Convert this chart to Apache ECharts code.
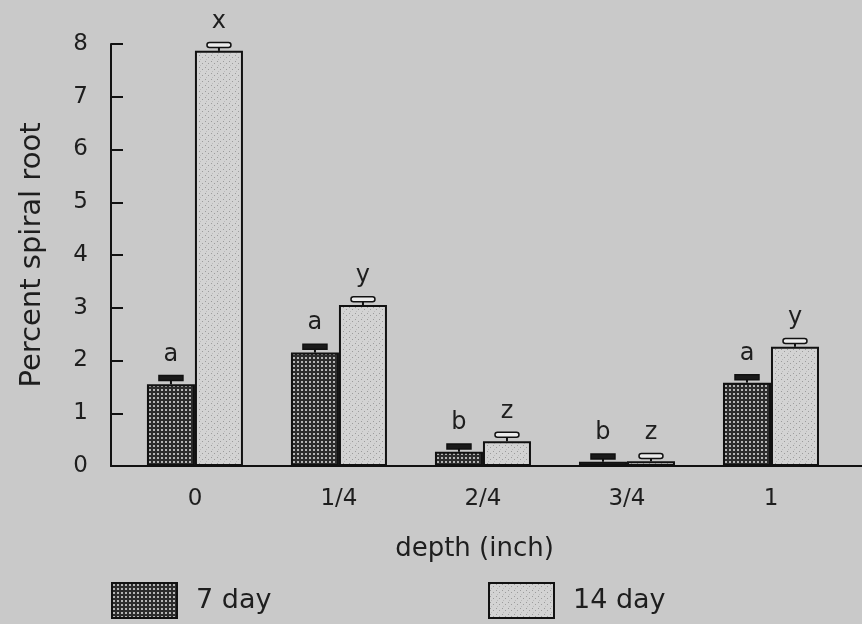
<!DOCTYPE html>
<html>
<head>
<meta charset="utf-8">
<script src="https://cdn.jsdelivr.net/npm/echarts@6/dist/echarts.min.js"></script>
<style>
  html, body { margin: 0; padding: 0; background: #c9c9c9; }
  #chart { width: 862px; height: 624px; }
</style>
</head>
<body>
<div id="chart"></div>
<script>
const depths = ['0', '1/4', '2/4', '3/4', '1']
const day7 = [1.55, 2.15, 0.27, 0.08, 1.58]
const day14 = [7.87, 3.05, 0.47, 0.09, 2.26]
const err7 = [0.13, 0.12, 0.11, 0.11, 0.11]
const err14 = [0.12, 0.12, 0.13, 0.11, 0.12]
const letters7 = ['a', 'a', 'b', 'b', 'a']
const letters14 = ['x', 'y', 'z', 'z', 'y']
const yTicks = [0, 1, 2, 3, 4, 5, 6, 7, 8]

const font = '"DejaVu Sans", "Liberation Sans", sans-serif'
const ink = '#1e1e1e'

// dark dotted texture for the 7 day bars
const makeDots = () => {
  const c = document.createElement('canvas')
  c.width = 4; c.height = 4
  const g = c.getContext('2d')
  g.fillStyle = '#2c2c2c'
  g.fillRect(0, 0, 4, 4)
  g.fillStyle = '#b4b4b4'
  g.fillRect(1, 1, 2, 2)
  return c
}
// light stipple for the 14 day bars
const makeStipple = () => {
  const c = document.createElement('canvas')
  c.width = 6; c.height = 6
  const g = c.getContext('2d')
  g.fillStyle = '#d3d3d3'
  g.fillRect(0, 0, 6, 6)
  g.fillStyle = '#9c9c9c'
  g.fillRect(1, 1, 1, 1)
  g.fillRect(4, 3, 1, 1)
  g.fillStyle = '#bababa'
  g.fillRect(2, 5, 1, 1)
  return c
}

const dark = { image: makeDots(), repeat: 'repeat' }
const light = { image: makeStipple(), repeat: 'repeat' }

const barW = 48

const errSeries = (vals, errs, letters, dx, filled) => ({
  type: 'custom',
  silent: true,
  z: 5,
  data: vals.map((v, i) => [i, v, errs[i], i]),
  renderItem: (params, api) => {
    const x = api.value(0), y = api.value(1), e = api.value(2)
    const base = api.coord([x, y])
    const top = api.coord([x, y + e])
    const cx = base[0] + dx
    return {
      type: 'group',
      children: [
        { type: 'line', shape: { x1: cx, y1: base[1], x2: cx, y2: top[1] },
          style: { stroke: '#111', lineWidth: 2 } },
        { type: 'rect', shape: { x: cx - 12, y: top[1] - 2, width: 24, height: 5, r: filled ? 0 : 2.5 },
          style: { fill: filled ? '#1a1a1a' : '#ececec', stroke: '#111', lineWidth: 1.5 } },
        { type: 'text', x: cx, y: top[1] - 11,
          style: { text: letters[api.value(3)], fill: ink, font: '24px ' + font,
                   align: 'center', verticalAlign: 'bottom' } }
      ]
    }
  }
})

const legendText = { fontSize: 27, color: ink, fontFamily: font, padding: [8, 0, 0, 14] }

const myChart = echarts.init(document.getElementById('chart'))

myChart.setOption({
  backgroundColor: '#c9c9c9',
  animation: false,
  textStyle: { fontFamily: font, color: ink },
  grid: { left: 111, right: 0, top: 44, bottom: 158 },
  legend: [
    {
      data: ['7 day'],
      left: 111, top: 582, padding: 0,
      icon: 'rect', itemWidth: 65, itemHeight: 35,
      selectedMode: false,
      textStyle: legendText
    },
    {
      data: ['14 day'],
      left: 488, top: 582, padding: 0,
      icon: 'rect', itemWidth: 65, itemHeight: 35,
      selectedMode: false,
      textStyle: legendText
    }
  ],
  xAxis: {
    type: 'value',
    min: -0.583,
    max: 4.632,
    name: 'depth (inch)',
    nameLocation: 'middle',
    nameGap: 70,
    nameTextStyle: { fontSize: 26, color: ink, padding: [0, 24, 0, 0] },
    splitLine: { show: false },
    axisTick: { show: false },
    axisLine: { onZero: false, lineStyle: { color: '#111', width: 2 } },
    axisLabel: {
      customValues: [0, 1, 2, 3, 4],
      formatter: v => depths[Math.round(v)],
      fontSize: 23,
      color: ink,
      margin: 22
    }
  },
  yAxis: {
    type: 'value',
    min: 0,
    max: 8,
    interval: 1,
    name: 'Percent spiral root',
    nameLocation: 'middle',
    nameGap: 64,
    nameTextStyle: { fontSize: 29, color: ink },
    splitLine: { show: false },
    axisLine: { show: true, onZero: false, lineStyle: { color: '#111', width: 2 } },
    axisTick: { show: true, inside: true, length: 12, lineStyle: { color: '#111', width: 2 } },
    axisLabel: {
      fontSize: 23,
      color: ink,
      margin: 23,
      formatter: v => String(yTicks[v])
    }
  },
  series: [
    {
      name: '7 day',
      type: 'bar',
      barWidth: barW,
      barGap: '0%',
      data: day7.map((v, i) => [i, v]),
      itemStyle: { color: dark, borderColor: '#111', borderWidth: 2 }
    },
    {
      name: '14 day',
      type: 'bar',
      barWidth: barW,
      barGap: '0%',
      data: day14.map((v, i) => [i, v]),
      itemStyle: { color: light, borderColor: '#111', borderWidth: 2 }
    },
    errSeries(day7, err7, letters7, -barW / 2, true),
    errSeries(day14, err14, letters14, barW / 2, false)
  ]
})
</script>
</body>
</html>
